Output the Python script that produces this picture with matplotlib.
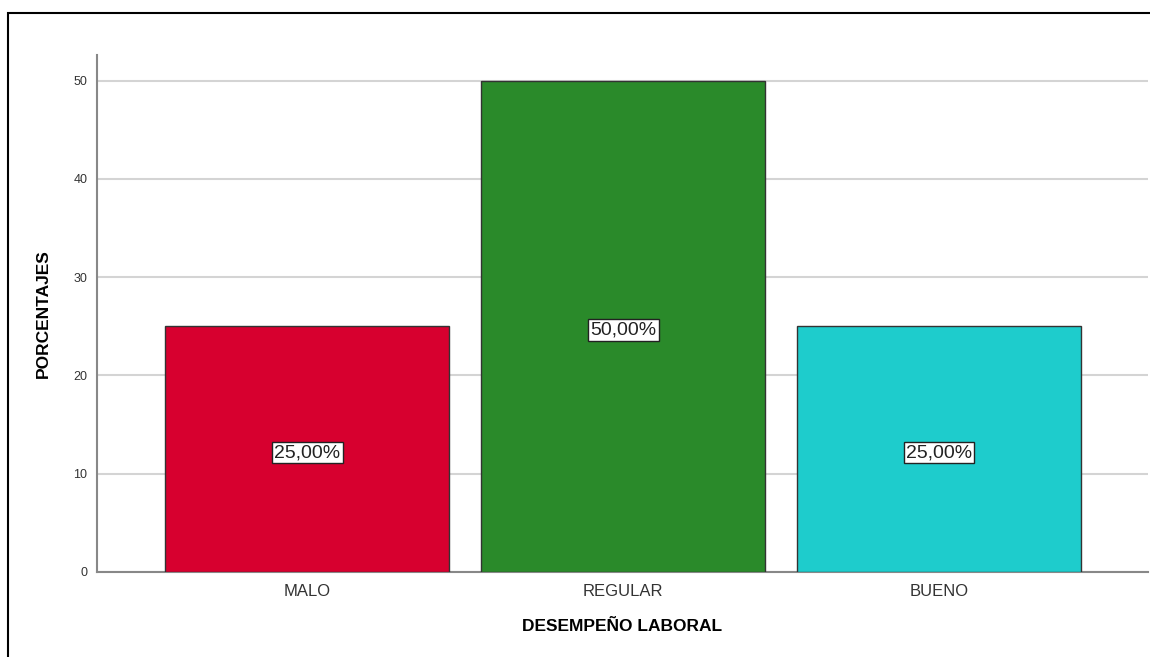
import matplotlib.pyplot as plt
from matplotlib.patches import Rectangle

plt.rcParams['font.family'] = ['Liberation Sans', 'DejaVu Sans']

categorias = ['MALO', 'REGULAR', 'BUENO']
porcentajes = [25.0, 50.0, 25.0]
etiquetas = ['25,00%', '50,00%', '25,00%']
colores = ['#d7002f', '#2a8a2a', '#1ecccc']

fig = plt.figure(figsize=(11.5, 6.57), dpi=100)
ax = fig.add_axes([0.0843, 0.1294, 0.9137, 0.7866])

x = range(len(categorias))
ax.bar(x, porcentajes, width=0.9, color=colores, edgecolor='#333333', linewidth=1, zorder=3)

for xi, v, t in zip(x, porcentajes, etiquetas):
    ax.text(xi, v / 2 - 0.35, t, ha='center', va='center', fontsize=14, color='#222222', zorder=4,
            bbox=dict(boxstyle='square,pad=0.12', facecolor='white', edgecolor='#222222', linewidth=1))

ax.set_xlim(-0.666, 2.661)
ax.set_ylim(0, 52.6)
ax.set_yticks([0, 10, 20, 30, 40, 50])
ax.set_xticks(list(x))
ax.set_xticklabels(categorias, fontsize=12, color='#333333')
ax.tick_params(axis='y', length=0, labelsize=9, labelcolor='#333333', pad=7)
ax.tick_params(axis='x', length=0, pad=9)
ax.yaxis.grid(True, color='#d4d4d4', linewidth=1.5, zorder=0)

for s in ['top', 'right']:
    ax.spines[s].set_visible(False)
for s in ['left', 'bottom']:
    ax.spines[s].set_color('#888888')
    ax.spines[s].set_linewidth(1.5)

ax.set_ylabel('PORCENTAJES', fontsize=12.5, fontweight='bold', labelpad=16)
ax.set_xlabel('DESEMPEÑO LABORAL', fontsize=12.5, fontweight='bold', labelpad=14)

# borde del marco
fig.patches.append(Rectangle((8 / 1150, -0.1), 2, (657 - 13) / 657 + 0.1,
                             transform=fig.transFigure, fill=False, edgecolor='black', linewidth=1.5))

fig.savefig('out.png', dpi=100)
